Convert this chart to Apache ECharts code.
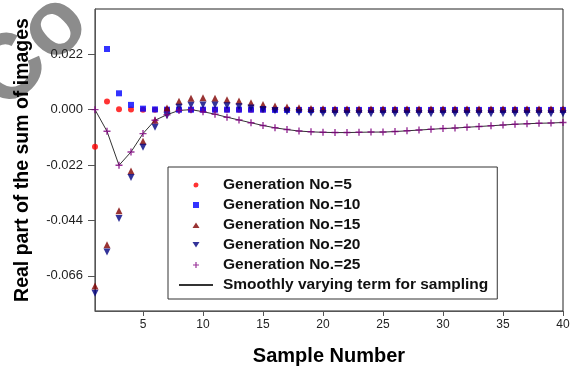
<!DOCTYPE html>
<html><head><meta charset="utf-8">
<script src="https://cdn.jsdelivr.net/npm/echarts@6/dist/echarts.min.js"></script>
<style>html,body{margin:0;padding:0;background:#fff}#c{width:574px;height:371px}</style>
</head><body><div id="c"></div>
<script>
const samples = [1,2,3,4,5,6,7,8,9,10,11,12,13,14,15,16,17,18,19,20,21,22,23,24,25,26,27,28,29,30,31,32,33,34,35,36,37,38,39,40];
const gen5 = [-0.0147,0.0032,0.0002,0.0001,0,0,0,0,0,0,0,0,0,0,0,0,0,0,0,0,0,0,0,0,0,0,0,0,0,0,0,0,0,0,0,0,0,0,0,0];
const gen10 = [null,0.0241,0.0065,0.0019,0.0004,0.0001,0,0,0,0,0,0,0,0,0,-0.0001,-0.0001,-0.0001,-0.0001,-0.0001,-0.0001,-0.0001,-0.0001,-0.0001,-0.0001,-0.0001,-0.0001,-0.0001,-0.0001,-0.0001,-0.0001,-0.0001,-0.0001,-0.0001,-0.0001,-0.0001,-0.0001,-0.0001,-0.0001,-0.0001];
const gen15 = [-0.0701,-0.0537,-0.0402,-0.0244,-0.0125,-0.0042,0.0007,0.0033,0.0045,0.0047,0.0045,0.0039,0.0034,0.0027,0.0021,0.0015,0.0011,0.0008,0.0005,0.0004,0.0003,0.0003,0.0003,0.0003,0.0003,0.0003,0.0003,0.0003,0.0003,0.0003,0.0003,0.0003,0.0003,0.0003,0.0003,0.0003,0.0003,0.0003,0.0003,0.0003];
const gen20 = [-0.0729,-0.0566,-0.0432,-0.0270,-0.0149,-0.0070,-0.0024,0.0010,0.0018,0.0019,0.0019,0.0016,0.0012,0.0007,0.0001,-0.0004,-0.0008,-0.0011,-0.0013,-0.0015,-0.0016,-0.0016,-0.0016,-0.0016,-0.0016,-0.0016,-0.0016,-0.0016,-0.0016,-0.0016,-0.0016,-0.0016,-0.0016,-0.0016,-0.0016,-0.0016,-0.0016,-0.0016,-0.0016,-0.0016];
const gen25 = [0,-0.0086,-0.0221,-0.0168,-0.0095,-0.0042,-0.0020,-0.0003,0,-0.0008,-0.0018,-0.0030,-0.0041,-0.0052,-0.0063,-0.0072,-0.0079,-0.0085,-0.0088,-0.0090,-0.0091,-0.0091,-0.0090,-0.0089,-0.0089,-0.0087,-0.0084,-0.0081,-0.0078,-0.0075,-0.0073,-0.0070,-0.0067,-0.0064,-0.0061,-0.0058,-0.0056,-0.0054,-0.0053,-0.0051];
const smooth = [0,-0.0086,-0.0221,-0.0168,-0.0095,-0.0042,-0.0020,-0.0003,0,-0.0008,-0.0018,-0.0030,-0.0041,-0.0052,-0.0063,-0.0072,-0.0079,-0.0085,-0.0088,-0.0090,-0.0091,-0.0091,-0.0090,-0.0089,-0.0089,-0.0087,-0.0084,-0.0081,-0.0078,-0.0075,-0.0073,-0.0070,-0.0067,-0.0064,-0.0061,-0.0058,-0.0056,-0.0054,-0.0053,-0.0051];
const xTicks = [5,10,15,20,25,30,35,40];
const yTicks = [-0.066,-0.044,-0.022,0,0.022];
const names = ['Generation No.=5','Generation No.=10','Generation No.=15','Generation No.=20','Generation No.=25','Smoothly varying term for sampling'];

const pair = arr => samples.map((x,i) => [x, arr[i]]);
const FONT = 'Liberation Sans, Arial, sans-serif';
const plus = 'path://M4,0L6,0L6,4L10,4L10,6L6,6L6,10L4,10L4,6L0,6L0,4L4,4Z';
// legend icons: invisible corner specks fix the 34x6 box so the shape is not stretched
const box = 'M0,0L0.01,0L0.01,0.01Z M34,6L33.99,6L33.99,5.99Z ';
const iconRect = 'path://' + box + 'M14,0L20,0L20,6L14,6Z';
const iconUp = 'path://' + box + 'M13.5,6L17,0.5L20.5,6Z';
const iconDown = 'path://' + box + 'M13.5,0L20.5,0L17,5.5Z';
const iconPlus = 'path://' + box + 'M16.4,0L17.6,0L17.6,2.4L20,2.4L20,3.6L17.6,3.6L17.6,6L16.4,6L16.4,3.6L14,3.6L14,2.4L16.4,2.4Z';
const iconDot = 'path://' + box + 'M17,0.5A2.5,2.5,0,1,1,16.99,0.5Z';

const chart = echarts.init(document.getElementById('c'), null, {renderer:'canvas'});
chart.setOption({
  animation:false,
  backgroundColor:'#fff',
  graphic:[{type:'text', x:-12, y:95, rotation:Math.PI/4, z:-10, silent:true,
    style:{text:'Co', font:'bold 92px Liberation Sans', fill:'#8c8c8c', textAlign:'left', textVerticalAlign:'middle'}}],
  grid:{left:95, right:11, top:9, bottom:58, show:true, borderColor:'#222', borderWidth:1, backgroundColor:'transparent'},
  legend:{
    orient:'vertical', left:168, top:167,
    padding:[10,9,6,10], itemGap:4, itemWidth:34, itemHeight:6, symbolRotate:0,
    borderColor:'#333', borderWidth:1, backgroundColor:'#fff',
    textStyle:{fontFamily:FONT, fontSize:15.5, fontWeight:'bold', color:'#111', lineHeight:15, padding:[0,0,0,5]},
    data:[
      {name:names[0], icon:iconDot},
      {name:names[1], icon:iconRect},
      {name:names[2], icon:iconUp},
      {name:names[3], icon:iconDown},
      {name:names[4], icon:iconPlus},
      {name:names[5], itemStyle:{opacity:0}}]
  },
  xAxis:{
    type:'value', min:1, max:40,
    name:'Sample Number', nameLocation:'middle', nameGap:35,
    nameTextStyle:{fontFamily:FONT, fontSize:20, fontWeight:'bold', color:'#000'},
    axisLine:{show:true, onZero:false, lineStyle:{color:'#555', width:1}},
    axisTick:{show:true, inside:false, length:5, customValues:xTicks, lineStyle:{color:'#555'}},
    axisLabel:{customValues:xTicks, fontFamily:FONT, fontSize:12, color:'#222', margin:8},
    splitLine:{show:false}
  },
  yAxis:{
    type:'value', min:-0.08, max:0.04,
    name:'Real part of the sum of images', nameLocation:'middle', nameGap:62, nameRotate:90,
    nameTextStyle:{fontFamily:FONT, fontSize:19.5, fontWeight:'bold', color:'#000'},
    axisLine:{show:true, lineStyle:{color:'#555', width:1}},
    axisTick:{show:true, inside:false, length:7, customValues:yTicks, lineStyle:{color:'#555'}},
    axisLabel:{customValues:yTicks, fontFamily:FONT, fontSize:13, color:'#222', margin:12,
      formatter: v => v.toFixed(3)},
    splitLine:{show:false}
  },
  series:[
    {name:names[5], type:'line', data:pair(smooth), symbol:'none', showSymbol:false,
      lineStyle:{color:'#333', width:1}, itemStyle:{color:'#333'}, z:1},
    {name:names[0], type:'scatter', data:pair(gen5), symbol:'circle', symbolSize:6, itemStyle:{color:'#ff0000'}, z:2},
    {name:names[1], type:'scatter', data:pair(gen10), symbol:'rect', symbolSize:6, itemStyle:{color:'#0000ff'}, z:3},
    {name:names[2], type:'scatter', data:pair(gen15), symbol:'triangle', symbolSize:7, itemStyle:{color:'#800000'}, z:4},
    {name:names[3], type:'scatter', data:pair(gen20), symbol:'triangle', symbolRotate:180, symbolSize:7, itemStyle:{color:'#000080'}, z:5},
    {name:names[4], type:'scatter', data:pair(gen25), symbol:plus, symbolSize:7, itemStyle:{color:'#800080'}, z:6}
  ]
});
</script></body></html>
